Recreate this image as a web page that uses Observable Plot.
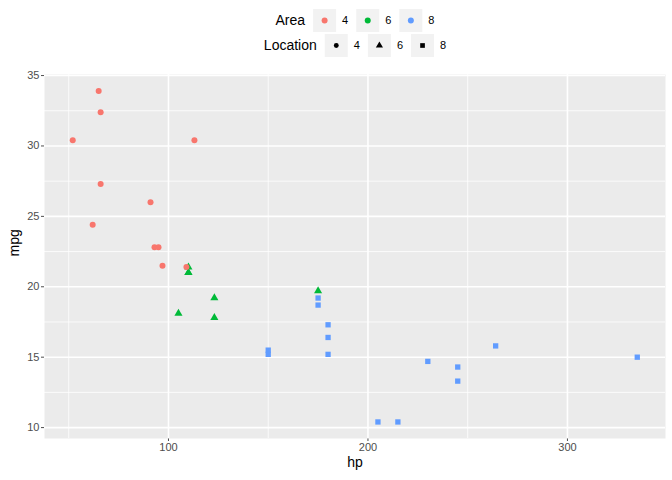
<!DOCTYPE html>
<html><head><meta charset="utf-8">
<script src="https://cdn.jsdelivr.net/npm/d3@7"></script>
<script src="https://cdn.jsdelivr.net/npm/@observablehq/plot@0.6"></script>
<style>
body{margin:0;background:#fff;font-family:"Liberation Sans",Arial,Helvetica,sans-serif;}
</style></head><body>
<div id="chart"></div>
<script>
// mtcars: hp, mpg, cyl
const hp  = [110,110,93,110,175,105,245,62,95,123,123,180,180,180,205,215,230,66,52,65,97,150,150,245,175,66,91,113,264,175,335,109];
const mpg = [21.0,21.0,22.8,21.4,18.7,18.1,14.3,24.4,22.8,19.2,17.8,16.4,17.3,15.2,10.4,10.4,14.7,32.4,30.4,33.9,21.5,15.5,15.2,13.3,19.2,27.3,26.0,30.4,15.8,19.7,15.0,21.4];
const cyl = [6,6,4,6,8,6,8,4,4,6,6,8,8,8,8,8,8,4,4,4,4,8,8,8,8,4,4,4,8,6,8,4];
const groups = ["4","6","8"];
const colors = ["#F8766D","#00BA38","#619CFF"];
const shapes = ["circle","triangle","square"];
const xMajor = [100,200,300], xMinor = [50,150,250];
const yMajor = [10,15,20,25,30,35], yMinor = [12.5,17.5,22.5,27.5,32.5];
const xTitle = "hp", yTitle = "mpg", colorTitle = "Area", shapeTitle = "Location";

const FONT = '"Liberation Sans",Arial,Helvetica,sans-serif';
const W = 672;
const root = document.getElementById("chart");

// Legend (above the plot)
const leg = d3.create("svg").attr("width", W).attr("height", 60)
  .style("display","block").style("font-family", FONT);
root.append(leg.node());
function legendRow(title, y0, drawKey) {
  const g = leg.append("g");
  const t = g.append("text").attr("x",0).attr("y",y0+11.5).attr("dy","0.35em")
    .attr("font-size",14).attr("fill","black").text(title);
  let x = t.node().getComputedTextLength() + 8;
  groups.forEach((k,i)=>{
    g.append("rect").attr("x",x).attr("y",y0).attr("width",23).attr("height",23).attr("fill","#F2F2F2");
    drawKey(g, x+11.5, y0+11.5, i);
    x += 23 + 6;
    const l = g.append("text").attr("x",x).attr("y",y0+11.5).attr("dy","0.35em")
      .attr("font-size",11).attr("fill","black").text(k);
    x += l.node().getComputedTextLength() + 8;
  });
  const total = x - 8;
  g.attr("transform", `translate(${355 - total/2},0)`);
}
const symMap = {circle:d3.symbolCircle, triangle:d3.symbolTriangle, square:d3.symbolSquare};
legendRow(colorTitle, 9, (g,cx,cy,i)=>{
  g.append("path").attr("transform",`translate(${cx},${cy})`)
    .attr("d", d3.symbol(d3.symbolCircle, Math.PI*9)()).attr("fill", colors[i]);
});
legendRow(shapeTitle, 34, (g,cx,cy,i)=>{
  g.append("path").attr("transform",`translate(${cx},${cy})`)
    .attr("d", d3.symbol(symMap[shapes[i]], Math.PI*(i===0?6:7))()).attr("fill", "black");
});

const data = hp.map((h,i)=>({hp:h, mpg:mpg[i], cyl:String(cyl[i])}));
const plot = Plot.plot({
  width: W, height: 420,
  marginTop: 14, marginBottom: 42, marginLeft: 44, marginRight: 7,
  style: {fontFamily: FONT, fontSize: "11px", color: "#4D4D4D", background: "white"},
  x: {domain: [37.85, 349.15], ticks: xMajor, tickSize: 3, tickPadding: 2, label: null},
  y: {domain: [9.225, 35.075], ticks: yMajor, tickSize: 3, tickPadding: 2, label: null},
  color: {domain: groups, range: colors},
  symbol: {domain: groups, range: shapes},
  marks: [
    Plot.frame({fill: "#EBEBEB", stroke: "none"}),
    Plot.ruleX(xMinor, {stroke: "white", strokeWidth: 0.8}),
    Plot.ruleY(yMinor, {stroke: "white", strokeWidth: 0.8}),
    Plot.ruleX(xMajor, {stroke: "white", strokeWidth: 1.6}),
    Plot.ruleY(yMajor, {stroke: "white", strokeWidth: 1.6}),
    Plot.dot(data, {x: "hp", y: "mpg", fill: "cyl", symbol: "cyl", r: 3}),
    Plot.text([xTitle], {frameAnchor: "bottom", dy: 28, text: d => d, fill: "black", fontSize: 14}),
    Plot.text([yTitle], {frameAnchor: "left", dx: -30, rotate: -90, text: d => d, fill: "black", fontSize: 14})
  ]
});
plot.style.display = "block";
root.append(plot);
</script>
</body></html>
